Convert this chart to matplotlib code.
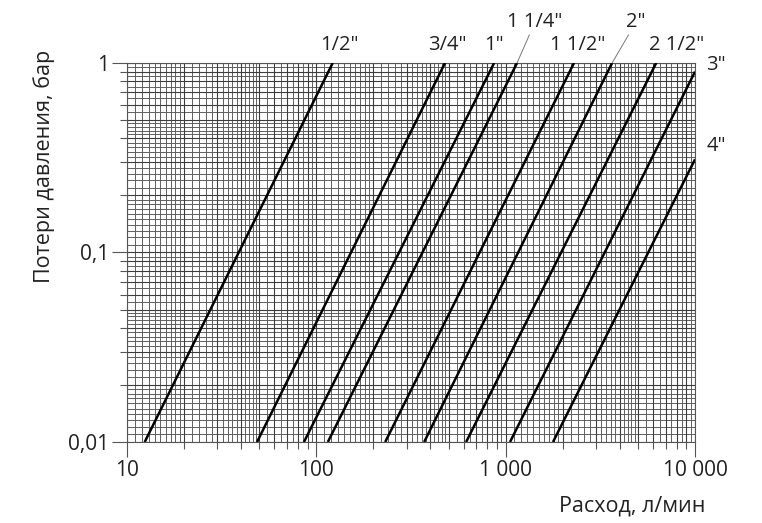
import matplotlib.pyplot as plt
import numpy as np
from matplotlib.ticker import FixedLocator, FixedFormatter, NullFormatter, LogLocator

plt.rcParams['font.family'] = ['Open Sans', 'DejaVu Sans']

# --- данные: потери давления по диаметрам ---
sizes    = ['1/2"', '3/4"', '1"', '1 1/4"', '1 1/2"', '2"', '2 1/2"', '3"', '4"']
q_start  = [12.4, 48.6, 86, 115, 231, 371, 618, 1054, 1778]       # л/мин при 0,01 бар
q_end    = [122, 478, 869, 1148, 2296, 3648, 6237, 10000, 10000]  # л/мин
dp_start = [0.01] * 9
dp_end   = [1, 1, 1, 1, 1, 1, 1, 0.9, 0.31]

x_ticks = [10, 100, 1000, 10000]
x_tick_labels = ['10', '100', '1 000', '10 000']
y_ticks = [0.01, 0.1, 1]
y_tick_labels = ['0,01', '0,1', '1']

# смещения подписей (пиксели) и выноски
label_offsets = [(7, 18), (2, 18), (0, 18), (18, 41), (4, 18), (24, 41), (20, 18), (21, 7), (21, 13)]
leaders = [False, False, False, True, False, True, False, False, False]

fig = plt.figure(figsize=(7.62, 5.23), dpi=100)
pos = [0.1667, 0.1549, 0.7454, 0.7247]

# мелкая сетка (логарифмическая бумага) на отдельных осях позади
axg = fig.add_axes(pos, zorder=0)
axg.set_xscale('log')
axg.set_yscale('log')
axg.set_xlim(10, 10000)
axg.set_ylim(0.01, 1)
fine_subs = np.concatenate([np.arange(1.1, 2.0, 0.1), np.arange(2.2, 5.0, 0.2), np.arange(5.5, 10, 0.5)])
fine_subs = [s for s in fine_subs if abs(s - round(s)) > 1e-6]
axg.xaxis.set_major_locator(FixedLocator([]))
axg.yaxis.set_major_locator(FixedLocator([]))
axg.xaxis.set_minor_locator(LogLocator(base=10, subs=fine_subs, numticks=50))
axg.yaxis.set_minor_locator(LogLocator(base=10, subs=fine_subs, numticks=50))
axg.xaxis.set_minor_formatter(NullFormatter())
axg.yaxis.set_minor_formatter(NullFormatter())
axg.tick_params(which='both', length=0)
axg.grid(which='minor', color='#5e5e5e', lw=0.7)
for s in axg.spines.values():
    s.set_visible(False)

ax = fig.add_axes(pos, zorder=1)
ax.patch.set_alpha(0)
ax.set_xscale('log')
ax.set_yscale('log')
ax.set_xlim(10, 10000)
ax.set_ylim(0.01, 1)

for i in range(len(sizes)):
    ax.plot([q_start[i], q_end[i]], [dp_start[i], dp_end[i]], color='black', lw=1.8,
            solid_capstyle='butt', zorder=3)
    props = dict(arrowstyle='-', color='#777777', lw=0.7, shrinkA=0, shrinkB=0) if leaders[i] else None
    ax.annotate(sizes[i], xy=(q_end[i], dp_end[i]), xytext=label_offsets[i],
                textcoords='offset pixels', ha='center', va='center',
                fontsize=14.5, color='#222222', arrowprops=props, annotation_clip=False)

ax.xaxis.set_major_locator(FixedLocator(x_ticks))
ax.xaxis.set_major_formatter(FixedFormatter(x_tick_labels))
ax.yaxis.set_major_locator(FixedLocator(y_ticks))
ax.yaxis.set_major_formatter(FixedFormatter(y_tick_labels))
ax.xaxis.set_minor_locator(LogLocator(base=10, subs=np.arange(2, 10), numticks=50))
ax.yaxis.set_minor_locator(LogLocator(base=10, subs=np.arange(2, 10), numticks=50))
ax.xaxis.set_minor_formatter(NullFormatter())
ax.yaxis.set_minor_formatter(NullFormatter())
ax.tick_params(which='major', length=11, width=0.8, color='#555555', labelsize=15,
               labelcolor='#222222', pad=2)
ax.tick_params(which='minor', length=5, width=0.8, color='#555555')
ax.grid(which='both', color='#3c3c3c', lw=0.8)
for s in ax.spines.values():
    s.set_color('#555555')
    s.set_linewidth(0.8)

ax.set_xlabel('Расход, л/мин', fontsize=15.5, color='#222222', loc='right')
ax.xaxis.set_label_coords(1.018, -0.14)
ax.set_ylabel('Потери давления, бар', fontsize=15.5, color='#222222', loc='top')
ax.yaxis.set_label_coords(-0.127, 1.034)

fig.savefig('out.png', dpi=100)
